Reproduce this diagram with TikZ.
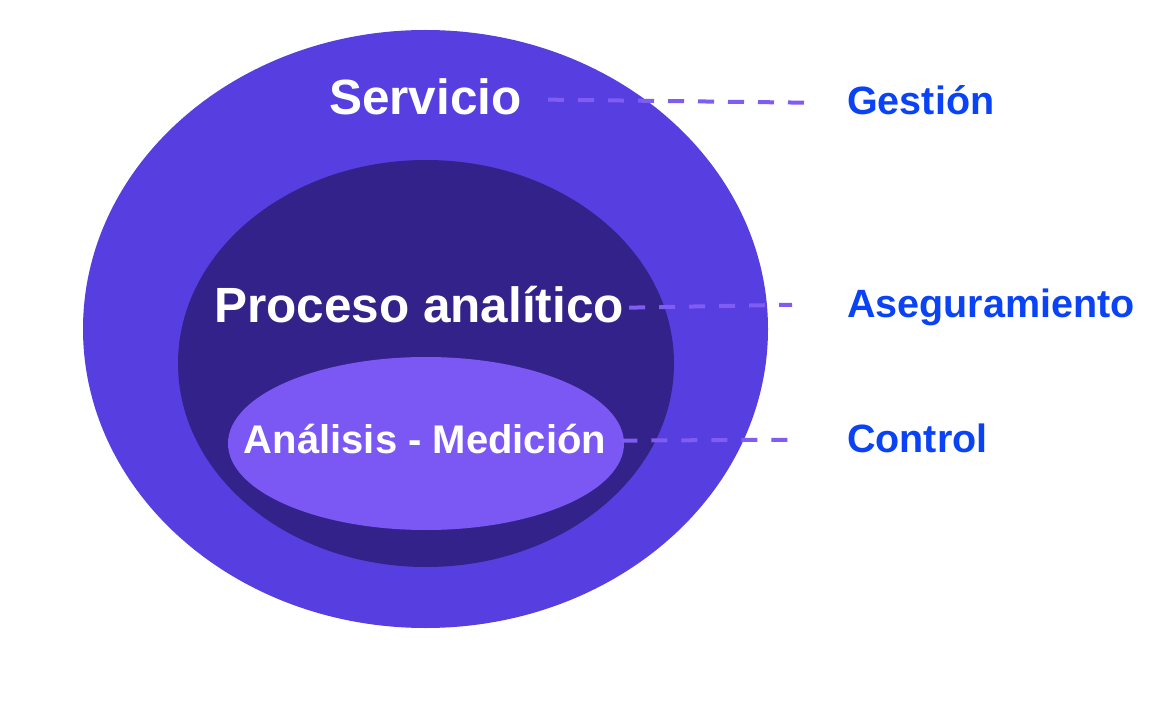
\documentclass[tikz,border=0pt]{standalone}
\usepackage{fontspec}
\setmainfont{Liberation Sans}
\definecolor{outerc}{HTML}{563EE0}
\definecolor{midc}{HTML}{33228A}
\definecolor{innerc}{HTML}{7B58F3}
\definecolor{dashc}{HTML}{7F5CF2}
\definecolor{labc}{HTML}{0A43F5}
\begin{document}
\begin{tikzpicture}[x=1pt,y=-1pt,
  txt/.style={inner sep=0pt,text depth=0pt},
  big/.style={txt,text=white,text height=30.7pt,font=\bfseries\fontsize{49.5}{49.5}\selectfont},
  mid/.style={txt,text=white,text height=24.8pt,font=\bfseries\fontsize{40}{40}\selectfont},
  lab/.style={txt,text=labc,text height=24.5pt,font=\bfseries\fontsize{39.5}{39.5}\selectfont,anchor=base west},
  dashline/.style={draw=dashc,line width=4pt,dash pattern=on 16pt off 14pt}]
\useasboundingbox (0,0) rectangle (1151,703);
\fill[white] (0,0) rectangle (1151,703);
\fill[outerc] (425.5,329) ellipse [x radius=342.5, y radius=299];
\fill[midc] (426,363.5) ellipse [x radius=248, y radius=203.5];
\fill[innerc] (426,443.5) ellipse [x radius=198, y radius=86.5];
\node[big,anchor=base] (serv) at (425.5,115) {Servicio};
\node[big,anchor=base] (proc) at (419,323) {Proceso analítico};
\node[mid,anchor=base] (anal) at (425,453) {Análisis - Medición};
\node[lab] (gest) at (847,115) {Gestión};
\node[lab] (aseg) at (847,317) {Aseguramiento};
\node[lab] (ctrl) at (847,452) {Control};
\draw[dashline] ([xshift=26pt]serv.east) -- ([xshift=-35pt]gest.west);
\draw[dashline] ([xshift=5pt]proc.east) -- ([xshift=-55pt]aseg.west);
\draw[dashline] ([xshift=15pt]anal.east) -- ([xshift=-59pt]ctrl.west);
\end{tikzpicture}
\end{document}
